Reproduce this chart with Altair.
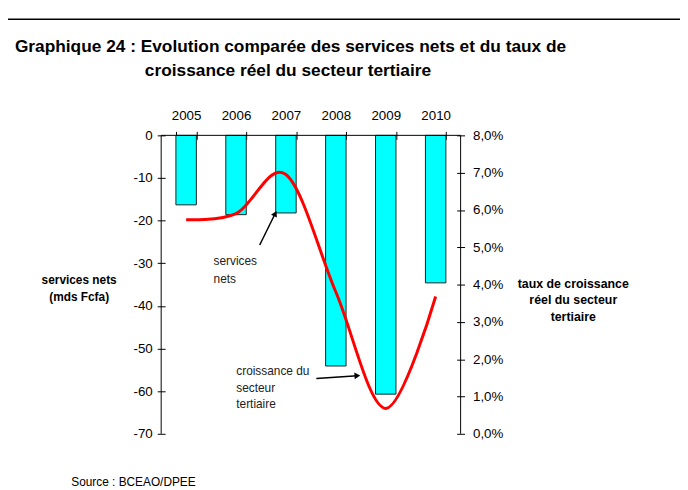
import altair as alt
import pandas as pd

years = ["2005", "2006", "2007", "2008", "2009", "2010"]
services_nets = [-16.3, -18.6, -18.2, -54.1, -60.7, -34.6]
croissance = [5.74, 5.9, 6.95, 3.8, 0.68, 3.68]

left_ticks = [-70, -60, -50, -40, -30, -20, -10, 0]
right_ticks = [0, 1, 2, 3, 4, 5, 6, 7, 8]

df = pd.DataFrame({"annee": years, "services": services_nets, "taux": croissance})
one = pd.DataFrame({"k": [0]})

FONT = "Liberation Sans"
W, H = 303, 302

xenc = alt.X(
    "annee:N", sort=years,
    scale=alt.Scale(paddingInner=0.59, paddingOuter=0.295),
    axis=alt.Axis(orient="top", title=None, labelAngle=0, tickBand="extent",
                  tickSize=8, offset=-4, domain=False, labelPadding=9.5,
                  labelFontSize=13.5, labelFont=FONT, labelColor="#000",
                  tickColor="#000", grid=False),
)

bars = alt.Chart(df).mark_bar(color="#00FFFF", stroke="#222222", strokeWidth=1).encode(
    x=xenc,
    y=alt.Y("services:Q", scale=alt.Scale(domain=[-70, 0], nice=False),
            axis=alt.Axis(orient="left", title=None, values=left_ticks, tickSize=8,
                          offset=-4, domain=False, labelPadding=5, labelFontSize=13.5,
                          labelFont=FONT, labelColor="#000", tickColor="#000", grid=False,
                          labelExpr="datum.value < 0 ? '-' + abs(datum.value) : '' + datum.value")),
)

line = alt.Chart(df).mark_line(color="#FF0000", strokeWidth=3, interpolate="cardinal").encode(
    x=xenc,
    y=alt.Y("taux:Q", scale=alt.Scale(domain=[0, 8], nice=False),
            axis=alt.Axis(orient="right", title=None, values=right_ticks, tickSize=8,
                          offset=-4, domain=False, labelPadding=8, labelFontSize=13.5,
                          labelFont=FONT, labelColor="#000", tickColor="#000", grid=False,
                          labelExpr="replace(format(datum.value, '.1f'), '.', ',') + '%'")),
)


def rule(x1, y1, x2, y2, width=1.0, color="#000"):
    return alt.Chart(one).mark_rule(color=color, strokeWidth=width).encode(
        x=alt.value(x1), y=alt.value(y1), x2=alt.value(x2), y2=alt.value(y2))


def text(t, x, y, size=12, weight="normal", align="left", color="#222", lh=None):
    kw = dict(text=t, font=FONT, fontSize=size, fontWeight=weight, align=align,
              baseline="middle", color=color)
    if lh is not None:
        kw["lineBreak"] = "\n"
        kw["lineHeight"] = lh
    return alt.Chart(one).mark_text(**kw).encode(x=alt.value(x), y=alt.value(y))


def head(x, y, angle):
    return alt.Chart(one).mark_point(shape="triangle-up", filled=True, size=45,
                                     color="#000", opacity=1, angle=angle).encode(
        x=alt.value(x), y=alt.value(y))


layers = [
    bars,
    line,
    rule(0, 0, 0, H),
    rule(W, 0, W, H),
    rule(0, 0, W, 0),
    rule(-163, -117.5, 525, -117.5, width=1.5),
    text("Graphique 24 : Evolution comparée des services nets et du taux de", -148, -89.5,
         size=17.5, weight="bold", color="#000"),
    text("croissance réel du secteur tertiaire", -16.5, -65.5, size=17.5, weight="bold",
         color="#000"),
    text("services nets\n(mds Fcfa)", -83, 146, size=12, weight="bold", align="center",
         color="#000", lh=18),
    text("taux de croissance\nréel du secteur\ntertiaire", 417, 150, size=12.5, weight="bold",
         align="center", color="#000", lh=17),
    text("services\nnets", 53, 127, size=12, lh=18),
    text("croissance du\nsecteur\ntertiaire", 76, 239, size=12, lh=16.5),
    text("Source : BCEAO/DPEE", -91, 351, size=12, color="#000"),
    rule(99.7, 111, 115.4, 79.1, width=1.5),
    head(115.4, 79.1, 26),
    rule(157, 246, 198.5, 243.2, width=1.5),
    head(198.5, 243.2, 86),
]

chart = alt.layer(*layers).resolve_scale(y="independent").properties(
    width=W, height=H,
    autosize=alt.AutoSizeParams(type="none"),
    padding={"left": 155, "top": 126, "right": 680 - 155 - W, "bottom": 482 - 126 - H},
    background="white",
).configure_view(stroke=None)

chart.save("out.html", embed_options={"renderer": "svg", "actions": False})
